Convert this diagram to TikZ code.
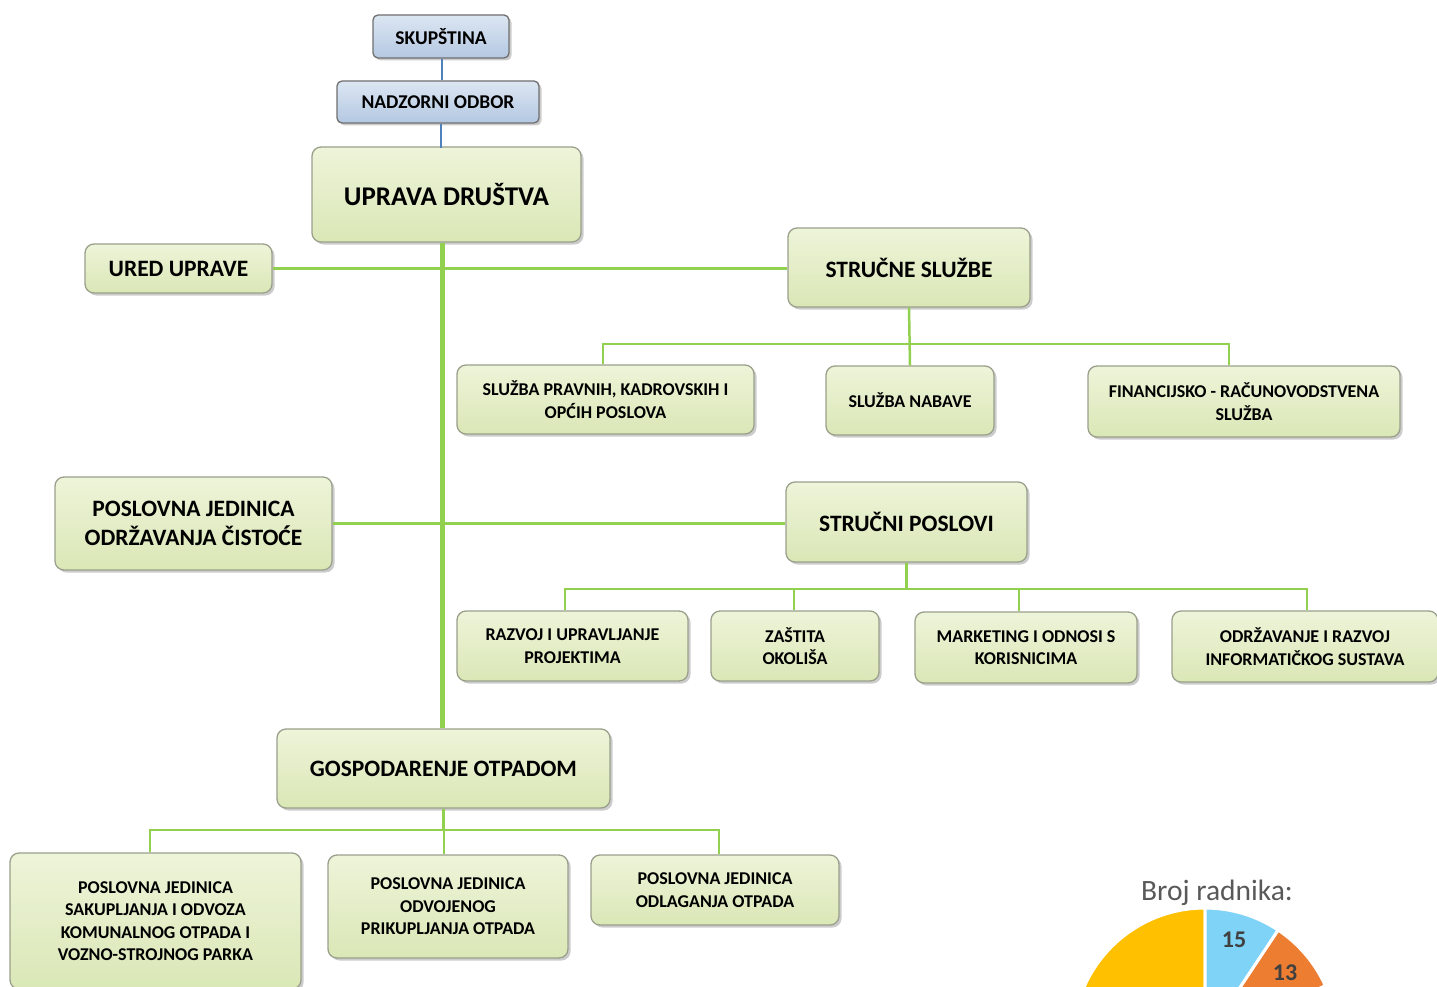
\documentclass[tikz,border=0pt]{standalone}
\usepackage{fontspec}
\setmainfont{Carlito}
\usetikzlibrary{shadows}
\definecolor{gtop}{HTML}{EEF4D9}
\definecolor{gbot}{HTML}{DAE7B6}
\definecolor{gedge}{HTML}{9AA08C}
\definecolor{btop}{HTML}{DCE6F2}
\definecolor{bbot}{HTML}{B4C8E2}
\definecolor{bedge}{HTML}{6F6F6F}
\definecolor{lgreen}{HTML}{92D050}
\definecolor{lblue}{HTML}{4F81BD}
\definecolor{pyel}{HTML}{FFC000}
\definecolor{pblu}{HTML}{7FD3F7}
\definecolor{pora}{HTML}{ED7D31}
\definecolor{pgrn}{HTML}{92D050}
\definecolor{ptxt}{HTML}{404040}
\definecolor{ttl}{HTML}{595959}
\tikzset{
  gbox/.style={rounded corners=9pt, top color=gtop, bottom color=gbot, draw=gedge, line width=1.3pt,
    drop shadow={opacity=0.4, shadow xshift=2.5pt, shadow yshift=-2.5pt},
    align=center, inner sep=0pt, text=black},
  bbox/.style={rounded corners=5pt, top color=btop, bottom color=bbot, draw=bedge, line width=1.3pt,
    drop shadow={opacity=0.4, shadow xshift=2.5pt, shadow yshift=-2.5pt},
    align=center, inner sep=0pt, text=black, font=\bfseries\fontsize{19.5}{22}\selectfont},
  bigt/.style={font=\bfseries\fontsize{23.5}{29}\selectfont},
  hugt/.style={font=\bfseries\fontsize{27}{30}\selectfont},
  smt/.style={font=\bfseries\fontsize{18}{22.5}\selectfont},
  trunk/.style={draw=lgreen, line width=5pt},
  hline/.style={draw=lgreen, line width=3.5pt},
  bus/.style={draw=lgreen, line width=2.5pt},
  bline/.style={draw=lblue, line width=2.5pt},
  wedge/.style={draw=white, line width=3pt}
}
\begin{document}
\begin{tikzpicture}[x=1pt,y=-1pt]
\useasboundingbox (0,0) rectangle (1437,987);
\clip (0,0) rectangle (1437,987);
\fill[white] (0,0) rectangle (1437,987);

% pie chart
\coordinate (pc) at (1205,1040);
\fill[pyel,wedge] (pc) -- ++(90:132) arc[start angle=90,end angle=270,radius=132] -- cycle;
\fill[pgrn,wedge] (pc) -- ++(-24.3:132) arc[start angle=-24.3,end angle=90,radius=132] -- cycle;
\fill[pora,wedge] (pc) -- ++(-56.4:132) arc[start angle=-56.4,end angle=-24.3,radius=132] -- cycle;
\fill[pblu,wedge] (pc) -- ++(-90:132) arc[start angle=-90,end angle=-56.4,radius=132] -- cycle;
\node[text=ttl, font=\fontsize{29.5}{32}\selectfont] (ttl) at (1217,893) {Broj radnika:};
\node[text=ptxt, font=\bfseries\fontsize{24}{26}\selectfont] (n15) at (1234,940) {15};
\node[text=ptxt, font=\bfseries\fontsize{24}{26}\selectfont] (n13) at (1285,973) {13};

\coordinate (tx) at (442,0);
\coordinate (b1) at (0,344);
\coordinate (b2) at (0,589);
\coordinate (b3) at (0,830);

% boxes
\node[bbox, minimum width=136, minimum height=43] (skup) at (441,36.5) {SKUPŠTINA};
\node[bbox, minimum width=202, minimum height=42] (nadz) at (438,102) {NADZORNI ODBOR};
\node[gbox, hugt, minimum width=269, minimum height=95] (uprava) at (446.5,194.5) {UPRAVA DRUŠTVA};
\node[gbox, bigt, minimum width=187, minimum height=49] (ured) at (178.5,268.5) {URED UPRAVE};
\node[gbox, bigt, minimum width=242, minimum height=79] (strucne) at (909,267.5) {STRUČNE SLUŽBE};
\node[gbox, smt, minimum width=297, minimum height=69] (pravnih) at (605.5,399.5) {SLUŽBA PRAVNIH, KADROVSKIH I\\OPĆIH POSLOVA};
\node[gbox, smt, minimum width=168, minimum height=69] (nabave) at (910,400.5) {SLUŽBA NABAVE};
\node[gbox, smt, minimum width=312, minimum height=71] (financ) at (1244,401.5) {FINANCIJSKO - RAČUNOVODSTVENA\\SLUŽBA};
\node[gbox, bigt, minimum width=277, minimum height=93] (pjodr) at (193.5,523.5) {POSLOVNA JEDINICA\\ODRŽAVANJA ČISTOĆE};
\node[gbox, bigt, minimum width=241, minimum height=80] (strucnip) at (906.5,522) {STRUČNI POSLOVI};
\node[gbox, smt, minimum width=231, minimum height=70] (razvoj) at (572.5,646) {RAZVOJ I UPRAVLJANJE\\PROJEKTIMA};
\node[gbox, smt, minimum width=168, minimum height=70] (zastita) at (795,646) {ZAŠTITA\\OKOLIŠA};
\node[gbox, smt, minimum width=222, minimum height=71] (marketing) at (1026,647.5) {MARKETING I ODNOSI S\\KORISNICIMA};
\node[gbox, smt, minimum width=266, minimum height=71] (informat) at (1305,646.5) {ODRŽAVANJE I RAZVOJ\\INFORMATIČKOG SUSTAVA};
\node[gbox, bigt, minimum width=333, minimum height=79] (gosp) at (443.5,768.5) {GOSPODARENJE OTPADOM};
\node[gbox, smt, minimum width=291, minimum height=136] (sakup) at (155.5,921) {POSLOVNA JEDINICA\\SAKUPLJANJA I ODVOZA\\KOMUNALNOG OTPADA I\\VOZNO-STROJNOG PARKA};
\node[gbox, smt, minimum width=240, minimum height=103] (odvoj) at (448,906.5) {POSLOVNA JEDINICA\\ODVOJENOG\\PRIKUPLJANJA OTPADA};
\node[gbox, smt, minimum width=248, minimum height=70] (odlag) at (715,890) {POSLOVNA JEDINICA\\ODLAGANJA OTPADA};

% connectors
\draw[bline] (skup.south -| tx) -- (nadz.north -| tx);
\draw[bline] ([xshift=3]nadz.south) -- ++(0,24);
\draw[trunk] (uprava.south -| tx) -- (gosp.north -| tx);
\draw[hline] (ured.east) -- (ured.east -| strucne.west);
\draw[hline] (pjodr.east) -- (pjodr.east -| strucnip.west);
\draw[bus] (strucne.south) -- (nabave.north);
\draw[bus] ([xshift=-2.5]pravnih.north) -- ([xshift=-2.5]pravnih.north |- b1) -| ([xshift=-15]financ.north);
\draw[bus] (strucnip.south) -- (strucnip.south |- b2);
\draw[bus] ([xshift=-7.5]razvoj.north) -- ([xshift=-7.5]razvoj.north |- b2) -| ([xshift=2]informat.north);
\draw[bus] ([xshift=-1]zastita.north) -- ([xshift=-1]zastita.north |- b2);
\draw[bus] ([xshift=-7]marketing.north) -- ([xshift=-7]marketing.north |- b2);
\draw[bus] (gosp.south) -- (gosp.south |- b3);
\draw[bus] ([xshift=-5.5]sakup.north) -- ([xshift=-5.5]sakup.north |- b3) -| ([xshift=4]odlag.north);
\draw[bus] ([xshift=-4]odvoj.north) -- ([xshift=-4]odvoj.north |- b3);
\end{tikzpicture}
\end{document}
